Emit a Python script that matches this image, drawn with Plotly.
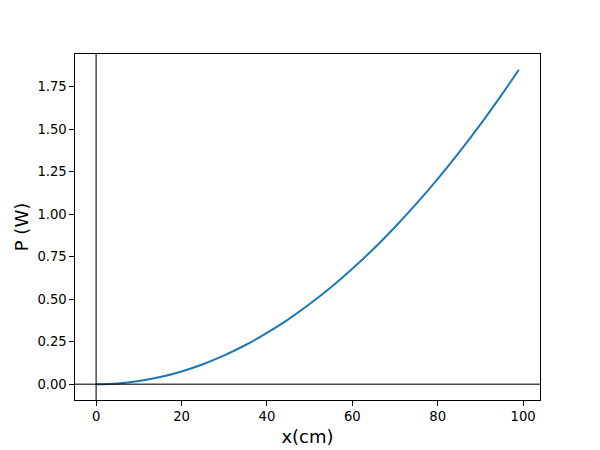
import plotly.graph_objects as go

# Data
x_cm = [0, 5, 10, 15, 20, 25, 30, 35, 40, 45, 50, 55, 60, 65, 70, 75, 80, 85, 90, 95, 99]
p_w = [0.0, 0.0047, 0.0189, 0.0425, 0.0755, 0.118, 0.170, 0.231, 0.302, 0.382, 0.472,
       0.571, 0.680, 0.797, 0.925, 1.062, 1.208, 1.364, 1.529, 1.704, 1.85]

x_ticks = [0, 20, 40, 60, 80, 100]
y_ticks = [0.0, 0.25, 0.5, 0.75, 1.0, 1.25, 1.5, 1.75]
y_ticklabels = ["0.00", "0.25", "0.50", "0.75", "1.00", "1.25", "1.50", "1.75"]

fig = go.Figure()
fig.add_trace(go.Scatter(x=x_cm, y=p_w, mode="lines", line=dict(color="#1f77b4", width=2, shape="spline"),
                         showlegend=False))

fig.add_hline(y=0, line=dict(color="rgba(0,0,0,0.7)", width=1.5))
fig.add_vline(x=0, line=dict(color="rgba(0,0,0,0.7)", width=1.5))

axis_common = dict(showline=True, mirror=True, linecolor="black", linewidth=1,
                   ticks="outside", ticklen=4.6, tickwidth=1, tickcolor="black",
                   showgrid=False, zeroline=False, automargin=False,
                   tickfont=dict(family="DejaVu Sans", size=13.2, color="black"))

fig.update_xaxes(range=[-4.95, 103.95], tickvals=x_ticks,
                 title=dict(text="x(cm)", font=dict(family="DejaVu Sans", size=18, color="black"), standoff=6),
                 **axis_common)
fig.update_yaxes(range=[-0.0925, 1.9425], tickvals=y_ticks, ticktext=y_ticklabels,
                 title=dict(text="P (W)", font=dict(family="DejaVu Sans", size=18, color="black"), standoff=4),
                 **axis_common)

fig.update_layout(template="none", width=592, height=442, margin=dict(l=67, r=60, t=46, b=50),
                  plot_bgcolor="white", paper_bgcolor="white",
                  font=dict(family="DejaVu Sans"))

fig.write_html("out.html")
